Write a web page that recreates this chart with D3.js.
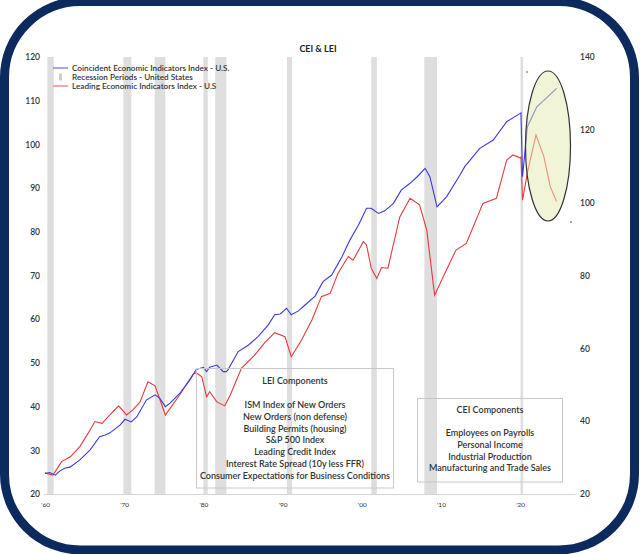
<!DOCTYPE html>
<html><head><meta charset="utf-8">
<script src="https://cdn.jsdelivr.net/npm/d3@7"></script>
<style>
html,body{margin:0;padding:0;background:#fff;}
svg{display:block;font-family:Lato,"Open Sans",sans-serif;}
</style></head>
<body>
<svg id="c" width="640" height="554"></svg>
<script>
// ---- data ----
const ceiYears = [1960.0,1960.6,1961.3,1961.9,1962.5,1963.2,1964.4,1965.7,1966.9,1967.6,1968.2,1969.5,1970.1,1970.9,1971.6,1972.8,1973.9,1974.5,1975.2,1975.8,1977.0,1978.3,1979.1,1980.0,1980.4,1980.8,1981.7,1982.5,1982.9,1983.1,1984.4,1985.7,1986.9,1988.2,1989.0,1989.7,1990.5,1991.1,1992.0,1992.8,1994.1,1995.1,1996.2,1997.5,1998.5,1999.6,2000.6,2001.2,2002.1,2002.9,2004.0,2005.0,2006.1,2007.0,2008.0,2008.6,2009.5,2010.7,2012.4,2013.0,2014.9,2016.6,2018.3,2020.0,2020.1,2020.3,2020.9,2022.1,2023.3,2024.6];
const cei = [24.7,24.9,24.3,25.3,25.9,26.2,27.8,30.1,33.1,33.5,34.0,35.8,37.1,36.5,37.7,41.5,42.7,41.9,40.0,40.8,43.0,46.1,48.5,49.0,48.0,49.0,49.5,48.0,48.0,48.4,52.6,54.1,56.0,58.7,61.0,61.2,62.5,61.0,61.9,63.2,65.3,68.6,70.1,74.3,78.1,81.6,85.4,85.4,84.2,84.8,86.5,89.6,91.1,92.6,94.5,92.6,85.7,88.0,93.0,94.9,99.1,101.0,105.2,107.1,107.2,92.6,104.0,108.6,110.6,112.8];
const leiYears = [1960.0,1961.0,1962.1,1963.2,1964.4,1965.4,1966.3,1967.2,1968.2,1969.3,1970.3,1971.1,1972.0,1973.0,1973.9,1975.2,1975.8,1977.0,1978.7,1979.1,1979.8,1980.4,1980.8,1981.7,1982.7,1983.4,1984.8,1986.5,1987.7,1989.0,1990.3,1991.1,1992.4,1993.7,1994.9,1996.0,1997.0,1998.3,1998.9,2000.2,2000.6,2001.2,2001.9,2002.5,2003.3,2004.8,2006.1,2007.3,2008.2,2009.2,2010.3,2011.9,2013.2,2015.3,2017.0,2018.3,2019.1,2020.0,2020.1,2020.3,2020.9,2022.0,2023.0,2023.8,2024.6];
const lei = [25.8,25.2,28.9,30.2,33.0,36.5,39.9,39.4,41.7,44.2,41.7,43.1,45.3,50.8,49.7,41.7,43.5,47.2,52.9,53.3,52.2,46.7,48.1,45.3,44.2,47.2,54.5,58.2,61.4,64.3,63.2,57.7,62.3,67.8,74.2,75.1,80.6,85.2,84.2,89.3,88.4,82.0,79.2,82.2,82.0,96.1,101.2,99.4,92.5,74.6,79.7,87.0,88.8,99.8,101.2,111.7,113.1,112.3,112.5,100.7,108.1,118.6,112.6,104.4,100.3];
const recStart = [1960.3,1969.9,1973.85,1980.0,1981.5,1990.55,2001.2,2007.9,2020.05];
const recEnd   = [1961.1,1970.9,1975.2,1980.55,1982.9,1991.2,2001.9,2009.5,2020.35];
const leftTicks = [20,30,40,50,60,70,80,90,100,110,120];
const rightTicks = [20,40,60,80,100,120,140];
const xTicks = [1960,1970,1980,1990,2000,2010,2020];
const xTickLabels = ["'60","'70","'80","'90","'00","'10","'20"];
const legendLabels = ["Coincident Economic Indicators Index - U.S.","Recession Periods - United States","Leading Economic Indicators Index - U.S"];
const leiComponents = ["ISM Index of New Orders","New Orders (non defense)","Building Permits (housing)","S&P 500 Index","Leading Credit Index","Interest Rate Spread (10y less FFR)","Consumer Expectations for Business Conditions"];
const ceiComponents = ["Employees on Payrolls","Personal Income","Industrial Production","Manufacturing and Trade Sales"];

// ---- drawing ----
const svg = d3.select("#c");
const x = d3.scaleLinear().domain([1960,2027]).range([45,575.6]);
const yL = d3.scaleLinear().domain([20,120]).range([494,57]);
const yR = d3.scaleLinear().domain([20,140]).range([494,57]);
const blue = "#3a3ae0", red = "#e8393c", txt = "#333";

// recession bars
svg.append("g").selectAll("rect").data(recStart).join("rect")
  .attr("x",(d)=>x(d)).attr("width",(d,i)=>Math.max(2.5,x(recEnd[i])-x(d)))
  .attr("y",yL(120)).attr("height",yL(20)-yL(120)).attr("fill","#dedede");

// baseline
svg.append("line").attr("x1",44).attr("x2",575.6).attr("y1",yL(20)+0.5).attr("y2",yL(20)+0.5)
  .attr("stroke","#d4d4d4").attr("stroke-width",1);

// axes
const ax = g => { g.select(".domain").remove(); g.selectAll("text").attr("fill",txt).style("font-family","Lato,sans-serif"); };
svg.append("g").attr("transform","translate(44,0)")
  .call(d3.axisLeft(yL).tickValues(leftTicks).tickSize(0).tickPadding(4))
  .call(ax).selectAll("text").style("font-size","8.5px").style("font-weight","600");
svg.append("g").attr("transform","translate(576,0)")
  .call(d3.axisRight(yR).tickValues(rightTicks).tickSize(0).tickPadding(4))
  .call(ax).selectAll("text").style("font-size","8.5px").style("font-weight","600");
svg.append("g").attr("transform","translate(0,494)")
  .call(d3.axisBottom(x).tickValues(xTicks).tickFormat((d,i)=>xTickLabels[i]).tickSize(0).tickPadding(8))
  .call(ax).selectAll("text").style("font-size","6.5px");

// lines
const pts = (ys,vs,sc)=> ys.map((yr,i)=>[x(yr),sc(vs[i])]);
const line = d3.line();
svg.append("path").attr("d",line(pts(leiYears,lei,yR))).attr("fill","none").attr("stroke",red).attr("stroke-width",1.1);
svg.append("path").attr("d",line(pts(ceiYears,cei,yL))).attr("fill","none").attr("stroke",blue).attr("stroke-width",1.1);

// title
svg.append("text").attr("x",318).attr("y",52).attr("text-anchor","middle")
  .style("font-size","9px").style("font-weight","700").attr("fill","#222").text("CEI & LEI");

// legend
const lg = svg.append("g");
[blue,null,red].forEach((c,i)=>{
  const yy = 68 + i*9;
  if(c) lg.append("line").attr("x1",53).attr("x2",68).attr("y1",yy).attr("y2",yy).attr("stroke",c).attr("stroke-opacity",0.6).attr("stroke-width",1.5);
  else lg.append("rect").attr("x",59).attr("y",yy-3.5).attr("width",3).attr("height",7).attr("fill","#cfcfcf");
  lg.append("text").attr("x",72).attr("y",yy+3).style("font-size","8.2px").style("font-weight","600").attr("fill",txt).text(legendLabels[i]);
});

// LEI components box
svg.append("rect").attr("x",196.5).attr("y",368.5).attr("width",197).attr("height",119.5)
  .attr("fill","none").attr("stroke","#c8c8c8");
svg.append("text").attr("x",295).attr("y",384).attr("text-anchor","middle").style("font-size","9px").style("font-weight","600").attr("fill",txt).text("LEI Components");
svg.append("g").selectAll("text").data(leiComponents).join("text")
  .attr("x",295).attr("y",(d,i)=>408+i*11.8).attr("text-anchor","middle")
  .style("font-size","9px").style("font-weight","600").attr("fill",txt).text(d=>d);

// CEI components box
svg.append("rect").attr("x",417.5).attr("y",398.5).attr("width",145).attr("height",83.5)
  .attr("fill","none").attr("stroke","#c8c8c8");
svg.append("text").attr("x",490).attr("y",413).attr("text-anchor","middle").style("font-size","9px").style("font-weight","600").attr("fill",txt).text("CEI Components");
svg.append("g").selectAll("text").data(ceiComponents).join("text")
  .attr("x",490).attr("y",(d,i)=>436+i*11.8).attr("text-anchor","middle")
  .style("font-size","9px").style("font-weight","600").attr("fill",txt).text(d=>d);

// highlight ellipse
svg.append("ellipse").attr("cx",548).attr("cy",146).attr("rx",22.5).attr("ry",75)
  .attr("fill","#e6eab0").attr("fill-opacity",0.5).attr("stroke","#333").attr("stroke-width",1.2);
svg.append("rect").attr("x",526).attr("y",71).attr("width",2).attr("height",2).attr("fill","#aaa");
svg.append("rect").attr("x",570).attr("y",221).attr("width",2).attr("height",2).attr("fill","#aaa");

// frame
svg.append("rect").attr("x",4.5).attr("y",1.5).attr("width",630).attr("height",548.5)
  .attr("rx",76).attr("ry",76).attr("fill","none").attr("stroke","#0c2a5e").attr("stroke-width",9);
</script>
</body></html>
